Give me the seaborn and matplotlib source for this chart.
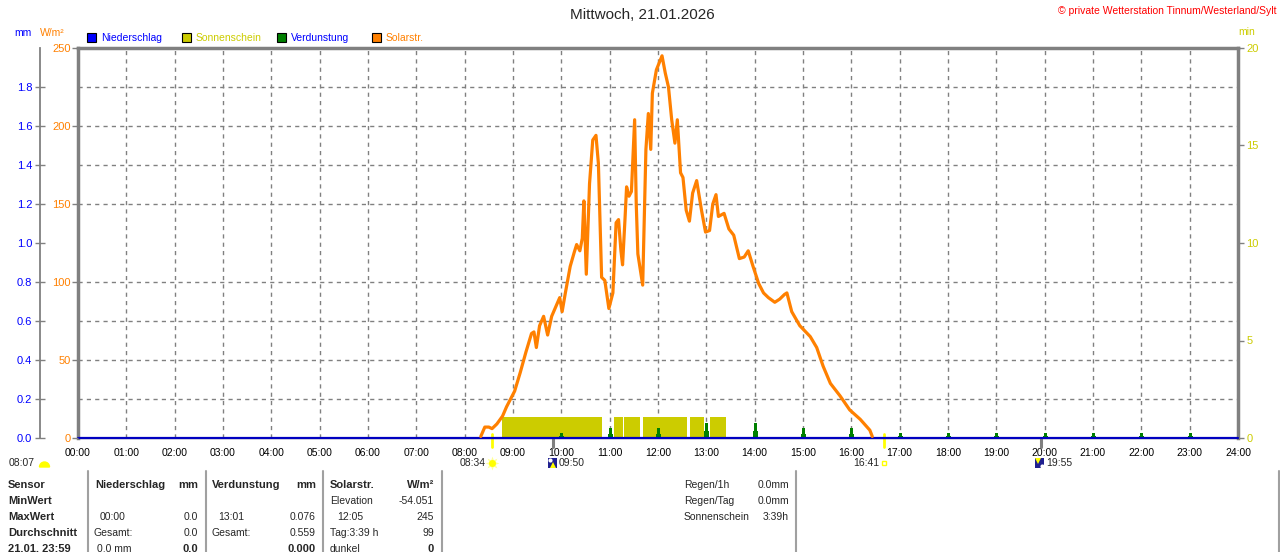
import numpy as np
import matplotlib
matplotlib.use("Agg")
import matplotlib.pyplot as plt
import matplotlib.patches as mpatches
import seaborn as sns

# Solarstrahlung (W/m²)
solar_zeit = ["08:20", "08:25", "08:30", "08:34", "08:40", "08:47", "08:52", "08:56",
              "09:02", "09:09", "09:16", "09:23", "09:26", "09:29", "09:33", "09:38",
              "09:43", "09:48", "09:53", "09:58", "10:01", "10:05", "10:11", "10:16",
              "10:19", "10:23", "10:26", "10:28", "10:31", "10:35", "10:39", "10:43",
              "10:46", "10:50", "10:54", "10:59", "11:04", "11:08", "11:11", "11:14",
              "11:16", "11:19", "11:21", "11:24", "11:27", "11:31", "11:33", "11:35",
              "11:41", "11:45", "11:48", "11:51", "11:53", "11:58", "12:05", "12:09",
              "12:13", "12:17", "12:21", "12:24", "12:28", "12:31", "12:35", "12:39",
              "12:43", "12:48", "12:54", "12:59", "13:04", "13:08", "13:12", "13:15",
              "13:22", "13:28", "13:34", "13:41", "13:47", "13:52", "13:58", "14:05",
              "14:11", "14:17", "14:25", "14:31", "14:37", "14:40", "14:46", "14:56",
              "15:09", "15:17", "15:25", "15:34", "15:46", "15:58", "16:11", "16:23",
              "16:26"]
solar_wm2 = [1, 7, 7, 6, 9, 14, 20, 24,
             30, 42, 55, 67, 68, 58, 72, 78,
             66, 78, 84, 90, 81, 93, 110, 119,
             124, 120, 128, 152, 105, 163, 191, 194,
             176, 103, 101, 83, 93, 138, 140, 120,
             111, 140, 161, 155, 158, 204, 150, 118,
             98, 185, 208, 185, 221, 236, 245, 234,
             225, 204, 189, 204, 170, 167, 146, 139,
             157, 165, 146, 132, 133, 150, 156, 142,
             144, 134, 130, 115, 116, 120, 110, 99,
             93, 90, 87, 89, 92, 93, 81, 72,
             65, 58, 46, 35, 27, 18, 12, 5,
             1]

# Sonnenschein (min je Intervall)
sonne_von = ["08:46", "11:06", "11:18", "11:42", "12:40", "13:05"]
sonne_bis = ["10:51", "11:16", "11:38", "12:36", "12:57", "13:25"]
sonne_min = [1.1, 1.1, 1.1, 1.1, 1.1, 1.1]

# Verdunstung (mm je Stunde)
verd_zeit = ["10:00", "11:00", "12:00", "13:00", "14:00", "15:00", "16:00",
             "17:00", "18:00", "19:00", "20:00", "21:00", "22:00", "23:00"]
verd_mm = [0.025, 0.051, 0.051, 0.076, 0.076, 0.051, 0.051,
           0.025, 0.025, 0.025, 0.025, 0.025, 0.025, 0.025]

# Niederschlag (mm)
regen_zeit = ["00:00", "24:00"]
regen_mm = [0.0, 0.0]

stunden_labels = ["%02d:00" % h for h in range(25)]
mm_ticks = [0.0, 0.2, 0.4, 0.6, 0.8, 1.0, 1.2, 1.4, 1.6, 1.8]
wm2_ticks = [0, 50, 100, 150, 200, 250]
min_ticks = [0, 5, 10, 15, 20]

BLAU = "#0000ff"
GELB = "#cccc00"
GRUEN = "#008000"
ORANGE = "#ff8000"
GRAU = "#808080"


def in_stunden(zeiten):
    return np.array([int(z[:2]) + int(z[3:]) / 60 for z in zeiten])


sns.set_style("white")
plt.rcParams['font.family'] = ['Liberation Sans', 'DejaVu Sans']
plt.rcParams['font.size'] = 7.5

fig = plt.figure(figsize=(12.8, 5.52), dpi=100)
fig.patch.set_facecolor("white")

ax_min = fig.add_axes([78 / 1280, 1 - 438 / 552, 1160 / 1280, 390 / 552])
ax_mm = ax_min.twinx()
ax_sol = ax_min.twinx()

# Sonnenschein
von = in_stunden(sonne_von)
bis = in_stunden(sonne_bis)
ax_min.bar(von, sonne_min, width=bis - von, align='edge', color=GELB, linewidth=0, zorder=2)

# Verdunstung (schmale Spitze auf breiterem Sockel) und Niederschlag
vz = in_stunden(verd_zeit) + 0.01
ax_mm.bar(vz, verd_mm, width=0.06, color=GRUEN, linewidth=0)
ax_mm.bar(vz, np.array(verd_mm) * 0.45, width=0.1, color=GRUEN, linewidth=0)
sns.lineplot(x=in_stunden(regen_zeit), y=regen_mm, ax=ax_mm, color="#0000c0",
             linewidth=1.6, clip_on=False)

# Solarstrahlung
sns.lineplot(x=in_stunden(solar_zeit), y=solar_wm2, ax=ax_sol, color=ORANGE,
             linewidth=2.3, sort=False)

# Achsen
for a in (ax_min, ax_mm, ax_sol):
    a.set_xlim(0, 24)
    a.set_xlabel("")
    a.set_ylabel("")

ax_min.set_ylim(0, 20)
ax_min.yaxis.tick_right()
ax_min.set_yticks(min_ticks)
ax_min.set_yticks(np.arange(0, 21, 2), minor=True)
ax_min.tick_params(axis='y', which='major', colors=GRAU, labelcolor=GELB, length=4,
                   width=1, pad=2, labelsize=8)
ax_min.tick_params(axis='y', which='minor', length=0)
ax_min.set_xticks(range(25))
ax_min.set_xticklabels(stunden_labels)
ax_min.tick_params(axis='x', colors=GRAU, labelcolor="black", length=5, width=1,
                   pad=2, labelsize=7.5)
ax_min.yaxis.grid(True, which='minor', color=GRAU, linestyle=(0, (3, 3)), linewidth=1)
ax_min.yaxis.grid(False, which='major')
ax_min.xaxis.grid(True, which='major', color=GRAU, linestyle=(0, (3, 3)), linewidth=1)
ax_min.set_axisbelow(True)
for s in ("top", "right", "left"):
    ax_min.spines[s].set_color(GRAU)
    ax_min.spines[s].set_linewidth(2.5)
ax_min.spines["bottom"].set_color(GRAU)
ax_min.spines["bottom"].set_linewidth(1)
ax_min.text(1.0, 1.04, "min", transform=ax_min.transAxes, color=GELB, fontsize=7.5,
            ha='left', va='center')

ax_mm.set_ylim(0, 2.0)
ax_mm.yaxis.tick_left()
ax_mm.set_yticks(mm_ticks)
ax_mm.set_yticklabels(["%.1f" % v for v in mm_ticks])
ax_mm.spines["left"].set_position(("axes", -38 / 1160))
ax_mm.spines["left"].set_visible(True)
ax_mm.spines["left"].set_color(GRAU)
ax_mm.spines["left"].set_linewidth(1.3)
for s in ("top", "right", "bottom"):
    ax_mm.spines[s].set_visible(False)
ax_mm.tick_params(axis='y', direction='inout', length=7, width=1, colors=GRAU,
                  labelcolor=BLAU, pad=2, labelsize=8)

ax_sol.set_ylim(0, 250)
ax_sol.yaxis.tick_left()
ax_sol.set_yticks(wm2_ticks)
for s in ("top", "right", "bottom", "left"):
    ax_sol.spines[s].set_visible(False)
ax_sol.tick_params(axis='y', length=4, width=1, colors=GRAU, labelcolor=ORANGE,
                   pad=1, labelsize=8)

# Sonnenauf-/-untergang und Mond auf der Zeitachse
xt = ax_min.get_xaxis_transform()
for z in ("08:34", "16:41"):
    t = in_stunden([z])[0]
    ax_min.plot([t, t], [-0.023, 0.01], transform=xt, color="#ffff00", lw=2, clip_on=False)
for z in ("09:50", "19:55"):
    t = in_stunden([z])[0]
    ax_min.plot([t, t], [-0.023, 0.0], transform=xt, color=GRAU, lw=2.2, clip_on=False)

# Overlay für Beschriftungen in Pixelkoordinaten
ov = fig.add_axes([0, 0, 1, 1])
ov.set_xlim(0, 1280)
ov.set_ylim(552, 0)
ov.axis('off')

ov.text(642, 15, "Mittwoch, 21.01.2026", ha='center', va='center', fontsize=11)
ov.text(1276, 11, "© private Wetterstation Tinnum/Westerland/Sylt", ha='right',
        va='center', color="#ff0000", fontsize=7.5)
ov.text(14, 33, "mm", color=BLAU, ha='left', va='center', fontsize=7.5)
ov.text(40, 33, "W/m²", color=ORANGE, ha='left', va='center', fontsize=7.5)

legende = [("Niederschlag", BLAU, BLAU, 87), ("Sonnenschein", GELB, GELB, 182),
           ("Verdunstung", GRUEN, BLAU, 277), ("Solarstr.", ORANGE, ORANGE, 372)]
for name, farbe, tfarbe, x0 in legende:
    ov.add_patch(mpatches.Rectangle((x0, 33), 9, 9, facecolor=farbe, edgecolor="black", lw=0.8))
    ov.text(x0 + 14, 38, name, color=tfarbe, ha='left', va='center', fontsize=7.5)

# Zeiten unter der Achse
ov.text(9, 463, "08:07", ha='left', va='center', fontsize=7.5)
ov.add_patch(mpatches.Wedge((44.5, 467), 5, 180, 360, color="#ffff00"))
ov.text(486, 463, "08:34", ha='right', va='center', fontsize=7.5)
ov.plot([492], [463], marker=(8, 1, 0), ms=10, color="#ffff99", mew=0)
ov.plot([492], [463], marker='o', ms=5, color="#ffff00", mew=0)
ov.add_patch(mpatches.Rectangle((548, 458), 9, 10, facecolor="#202090", lw=0))
ov.plot([550], [459.5], marker='o', ms=3, color="white", mew=0)
ov.plot([553], [465], marker='^', ms=4, color="#ffff00", mew=0)
ov.text(559, 463, "09:50", ha='left', va='center', fontsize=7.5)
ov.text(879, 463, "16:41", ha='right', va='center', fontsize=7.5)
ov.add_patch(mpatches.Rectangle((882, 461), 4, 4, facecolor="none", edgecolor="#ffff00", lw=1))
ov.add_patch(mpatches.Rectangle((1035, 458), 9, 10, facecolor="#202090", lw=0))
ov.plot([1038], [461], marker='v', ms=4, color="#ffff00", mew=0)
ov.plot([1042], [466], marker='o', ms=3, color="white", mew=0)
ov.text(1046, 463, "19:55", ha='left', va='center', fontsize=7.5)

# Tabelle
for x in (88, 206, 323, 442, 796, 1279):
    ov.plot([x, x], [471, 552], color="#a0a0a0", lw=1.5)

zeilen_y = [485, 501, 517, 533, 549]
for text, y in zip(["Sensor", "MinWert", "MaxWert", "Durchschnitt", "21.01. 23:59"], zeilen_y):
    ov.text(8, y, text, ha='left', va='center', fontsize=8, fontweight='bold')

def zelle(x, y, text, ha='left', fett=False):
    ov.text(x, y, text, ha=ha, va='center', fontsize=8 if fett else 7.5,
            fontweight='bold' if fett else 'normal')

zelle(95, 485, "Niederschlag", fett=True)
zelle(198, 485, "mm", ha='right', fett=True)
zelle(100, 517, "00:00")
zelle(198, 517, "0.0", ha='right')
zelle(94, 533, "Gesamt:")
zelle(198, 533, "0.0", ha='right')
zelle(97, 549, "0.0 mm")
zelle(198, 549, "0.0", ha='right', fett=True)

zelle(212, 485, "Verdunstung", fett=True)
zelle(316, 485, "mm", ha='right', fett=True)
zelle(218, 517, "13:01")
zelle(316, 517, "0.076", ha='right')
zelle(212, 533, "Gesamt:")
zelle(316, 533, "0.559", ha='right')
zelle(316, 549, "0.000", ha='right', fett=True)

zelle(330, 485, "Solarstr.", fett=True)
zelle(434, 485, "W/m²", ha='right', fett=True)
zelle(330, 501, "Elevation")
zelle(434, 501, "-54.051", ha='right')
zelle(337, 517, "12:05")
zelle(434, 517, "245", ha='right')
zelle(330, 533, "Tag:3:39 h")
zelle(434, 533, "99", ha='right')
zelle(330, 549, "dunkel")
zelle(434, 549, "0", ha='right', fett=True)

for text, wert, y in zip(["Regen/1h", "Regen/Tag", "Sonnenschein"],
                         ["0.0mm", "0.0mm", "3:39h"], [485, 501, 517]):
    zelle(684, y, text)
    zelle(789, y, wert, ha='right')

fig.savefig("out.png", dpi=100, facecolor="white")
